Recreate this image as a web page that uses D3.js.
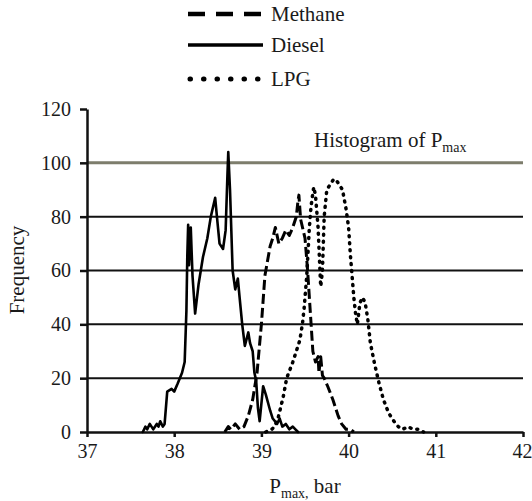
<!DOCTYPE html>
<html>
<head>
<meta charset="utf-8">
<script src="https://cdn.jsdelivr.net/npm/d3@7"></script>
<style>
  body { margin: 0; background: #fff; }
</style>
</head>
<body>
<div id="chart"></div>
<script>
var width = 532;
var height = 501;
var fontFamily = "'Liberation Serif', 'DejaVu Serif', 'Noto Serif', 'FreeSerif', serif";

// tick values
var xTicks = [37, 38, 39, 40, 41, 42];
var yTicks = [0, 20, 40, 60, 80, 100, 120];
var gridValues = [20, 40, 60, 80, 100];

// Diesel (solid)
var dieselP = [37.64, 37.67, 37.69, 37.72, 37.74, 37.76, 37.8, 37.82, 37.84, 37.87, 37.89, 37.92, 37.97, 38.0, 38.04, 38.09, 38.12,
  38.14, 38.15, 38.16, 38.17, 38.19, 38.21, 38.24, 38.28, 38.33, 38.38, 38.42, 38.47, 38.49, 38.52, 38.56, 38.59, 38.61, 38.62,
  38.64, 38.67, 38.7, 38.73, 38.75, 38.78, 38.81, 38.85, 38.87, 38.9, 38.92, 38.94, 38.96, 38.98, 39.02, 39.05, 39.1, 39.13,
  39.18, 39.21, 39.24, 39.28, 39.32, 39.36, 39.39, 39.42];
var dieselFreq = [0, 2, 1, 3, 2, 1, 3, 2, 4, 2, 3, 15, 16, 15, 18, 22, 26,
  45, 65, 77, 62, 76, 58, 44, 55, 65, 72, 80, 87, 80, 70, 68, 75, 95, 104,
  90, 60, 53, 57, 50, 40, 32, 37, 33, 30, 22, 19, 9, 4, 17, 14, 8, 5,
  3, 5, 2, 3, 1, 2, 1, 0];

// Methane (dashed)
var methaneP = [38.58, 38.62, 38.65, 38.7, 38.75, 38.8, 38.85, 38.9, 38.95, 39.0, 39.04, 39.1, 39.13, 39.16, 39.2, 39.24,
  39.28, 39.32, 39.36, 39.4, 39.42, 39.43, 39.45, 39.5, 39.53, 39.55, 39.57, 39.59, 39.62, 39.65, 39.66, 39.68, 39.7,
  39.72, 39.76, 39.82, 39.88, 39.92, 39.97, 40.02, 40.06];
var methaneFreq = [0, 2, 1, 3, 1, 2, 6, 12, 22, 40, 58, 69, 72, 76, 70, 72,
  75, 73, 76, 80, 86, 88, 79, 72, 60, 50, 40, 30, 26, 28, 22, 28, 21,
  20, 17, 12, 6, 3, 1, 1, 0];

// LPG (dotted)
var lpgP = [39.05, 39.12, 39.15, 39.19, 39.25, 39.29, 39.36, 39.44, 39.47, 39.49, 39.52, 39.55, 39.57, 39.6, 39.62, 39.65,
  39.68, 39.7, 39.72, 39.75, 39.79, 39.83, 39.87, 39.93, 39.97, 40.0, 40.02, 40.04, 40.06, 40.08, 40.1, 40.13, 40.16,
  40.19, 40.22, 40.25, 40.3, 40.35, 40.4, 40.46, 40.52, 40.57, 40.62, 40.68, 40.74, 40.8, 40.86];
var lpgFreq = [0, 1, 2, 5, 13, 20, 26, 34, 40, 46, 58, 76, 84, 91, 88, 76,
  54, 60, 80, 90, 92, 94, 93, 90, 83, 76, 66, 58, 50, 44, 40, 48, 50,
  48, 42, 33, 25, 18, 12, 7, 4, 2, 1, 2, 1, 1, 0];

var series = [
  { name: "Methane", p: methaneP, f: methaneFreq, dash: "10,4", width: 3, cap: "butt" },
  { name: "Diesel", p: dieselP, f: dieselFreq, dash: null, width: 2.6, cap: "round" },
  { name: "LPG", p: lpgP, f: lpgFreq, dash: "1,6", width: 3.5, cap: "round" }
];

var svg = d3.select("#chart")
  .append("svg")
  .attr("width", width)
  .attr("height", height)
  .attr("font-family", fontFamily);

var x = d3.scaleLinear().domain([37, 42]).range([87, 523]);
var y = d3.scaleLinear().domain([0, 120]).range([432, 109]);

// gridlines
svg.append("g")
  .selectAll("line")
  .data(gridValues)
  .enter()
  .append("line")
  .attr("x1", x(37))
  .attr("x2", x(42))
  .attr("y1", d => y(d))
  .attr("y2", d => y(d))
  .attr("stroke", d => d === 100 ? "#7d7d6c" : "#111")
  .attr("stroke-width", d => d === 100 ? 3 : 2);

// axes
var yAxis = svg.append("g")
  .attr("transform", "translate(" + x(37) + ",0)")
  .call(d3.axisLeft(y).tickValues(yTicks).tickFormat(d3.format("d")).tickSize(7).tickSizeOuter(0).tickPadding(9));

var xAxis = svg.append("g")
  .attr("transform", "translate(0," + y(0) + ")")
  .call(d3.axisBottom(x).tickValues(xTicks).tickFormat(d3.format("d")).tickSize(5).tickSizeOuter(0).tickPadding(7));

[yAxis, xAxis].forEach(function (g) {
  g.attr("font-family", fontFamily).attr("font-size", 20);
  g.select(".domain").attr("stroke", "#111").attr("stroke-width", 2.5);
  g.selectAll(".tick line").attr("stroke", "#111").attr("stroke-width", 2.5);
  g.selectAll(".tick text").attr("fill", "#1a1a1a");
});
// last x label sits at the right edge, pull it in a little
xAxis.selectAll(".tick text").filter(d => d === 42).attr("text-anchor", "end").attr("dx", 9);

// curves
var line = d3.line()
  .x(d => x(d[0]))
  .y(d => y(d[1]));

series.forEach(function (s) {
  var pts = s.p.map((v, i) => [v, s.f[i]]);
  svg.append("path")
    .datum(pts)
    .attr("d", line)
    .attr("fill", "none")
    .attr("stroke", "#000")
    .attr("stroke-width", s.width)
    .attr("stroke-linejoin", "round")
    .attr("stroke-linecap", s.cap)
    .attr("stroke-dasharray", s.dash);
});

// legend
var legendY = [14, 45, 79];
var legendDash = ["17,11", null, "0.5,13"];
var legendWidth = [4.5, 3.5, 5];
var legend = svg.append("g")
  .selectAll("g")
  .data(series)
  .enter()
  .append("g")
  .attr("transform", (d, i) => "translate(0," + legendY[i] + ")");

legend.append("line")
  .attr("x1", (d, i) => i === 2 ? 190 : 188)
  .attr("x2", 263)
  .attr("y1", 0)
  .attr("y2", 0)
  .attr("stroke", "#000")
  .attr("stroke-width", (d, i) => legendWidth[i])
  .attr("stroke-linecap", (d, i) => i === 2 ? "round" : "butt")
  .attr("stroke-dasharray", (d, i) => legendDash[i]);

legend.append("text")
  .attr("x", 271)
  .attr("y", 7)
  .attr("font-size", 21)
  .attr("fill", "#1a1a1a")
  .text(d => d.name);

// chart title inside plot
var title = svg.append("text")
  .attr("x", 314)
  .attr("y", 147)
  .attr("font-size", 21)
  .attr("fill", "#1a1a1a");
title.append("tspan").text("Histogram of P");
title.append("tspan").attr("dy", 5).attr("font-size", 14).text("max");

// axis labels
var xLabel = svg.append("text")
  .attr("x", 305)
  .attr("y", 493)
  .attr("text-anchor", "middle")
  .attr("font-size", 21)
  .attr("fill", "#1a1a1a");
xLabel.append("tspan").text("P");
xLabel.append("tspan").attr("dy", 5).attr("font-size", 14).text("max,");
xLabel.append("tspan").attr("dy", -5).text(" bar");

svg.append("text")
  .attr("transform", "translate(24,270) rotate(-90)")
  .attr("text-anchor", "middle")
  .attr("font-size", 21)
  .attr("fill", "#1a1a1a")
  .text("Frequency");
</script>
</body>
</html>
